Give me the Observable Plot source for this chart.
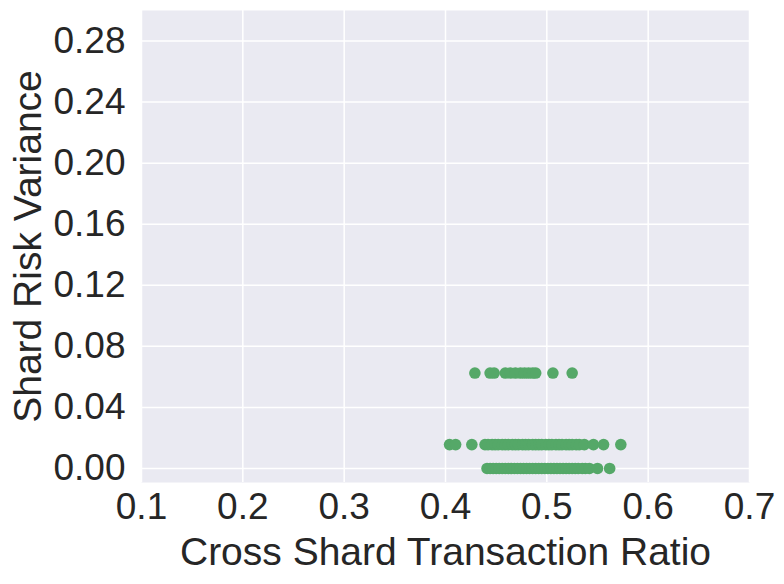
<!DOCTYPE html>
<html>
<head>
<meta charset="utf-8">
<script src="https://cdn.jsdelivr.net/npm/d3@7"></script>
<script src="https://cdn.jsdelivr.net/npm/@observablehq/plot@0.6"></script>
<style>
  html, body { margin: 0; padding: 0; background: #ffffff; }
  #chart svg { display: block; }
</style>
</head>
<body>
<div id="chart"></div>
<script>
// Values
const rowTopRisk = 0.0625;
const rowTopRatios = [0.429, 0.444, 0.448, 0.459, 0.464, 0.469, 0.474, 0.478, 0.482, 0.486, 0.489, 0.506, 0.525];

const rowMidRisk = 0.015625;
const rowMidRatios = [0.404, 0.410, 0.426, 0.439, 0.442, 0.446, 0.449, 0.452, 0.456, 0.459, 0.462, 0.466, 0.469,
  0.472, 0.476, 0.479, 0.482, 0.486, 0.489, 0.492, 0.495, 0.499, 0.502, 0.505, 0.509, 0.512, 0.515, 0.519,
  0.522, 0.525, 0.529, 0.532, 0.537, 0.546, 0.556, 0.573];

const rowLowRisk = 0.0;
const rowLowRatios = [0.441, 0.444, 0.447, 0.450, 0.453, 0.456, 0.459, 0.462, 0.465, 0.468, 0.471, 0.474, 0.477,
  0.480, 0.483, 0.486, 0.489, 0.492, 0.495, 0.498, 0.501, 0.504, 0.507, 0.510, 0.513, 0.516, 0.519, 0.522,
  0.525, 0.528, 0.531, 0.535, 0.538, 0.542, 0.550, 0.562];

const xTicks = [0.1, 0.2, 0.3, 0.4, 0.5, 0.6, 0.7];
const yTicks = [0.00, 0.04, 0.08, 0.12, 0.16, 0.20, 0.24, 0.28];
const xLabel = "Cross Shard Transaction Ratio";
const yLabel = "Shard Risk Variance";

const points = [
  ...rowTopRatios.map(x => ({x, y: rowTopRisk})),
  ...rowMidRatios.map(x => ({x, y: rowMidRisk})),
  ...rowLowRatios.map(x => ({x, y: rowLowRisk}))
];

const textColor = "#262626";
const font = "Liberation Sans, Arial, sans-serif";

const chart = Plot.plot({
  width: 784,
  height: 584,
  marginLeft: 141,
  marginRight: 35,
  marginTop: 10,
  marginBottom: 102,
  style: { fontFamily: font, fontSize: "37px", color: textColor, background: "#ffffff" },
  x: { domain: [0.1, 0.7] },
  y: { domain: [-0.0092, 0.300] },
  marks: [
    Plot.frame({ fill: "#EAEAF2", stroke: null }),
    Plot.gridX(xTicks, { stroke: "#ffffff", strokeOpacity: 1, strokeWidth: 1.5 }),
    Plot.gridY(yTicks, { stroke: "#ffffff", strokeOpacity: 1, strokeWidth: 1.5 }),
    Plot.axisX(xTicks, {
      tickSize: 0, tickPadding: 10, tickFormat: d3.format(".1f"),
      fontSize: 37, fill: textColor, label: null
    }),
    Plot.axisY(yTicks, {
      tickSize: 0, tickPadding: 16, tickFormat: d3.format(".2f"),
      fontSize: 37, fill: textColor, label: null
    }),
    Plot.text([xLabel], {
      text: d => d, frameAnchor: "bottom", dy: 70, lineAnchor: "middle",
      textAnchor: "middle", fontSize: 39, fill: textColor
    }),
    Plot.text([yLabel], {
      text: d => d, frameAnchor: "left", dx: -113, rotate: -90, lineAnchor: "middle",
      textAnchor: "middle", fontSize: 39, fill: textColor
    }),
    Plot.dot(points, { x: "x", y: "y", r: 5.8, fill: "#55A868", stroke: null })
  ]
});

document.getElementById("chart").appendChild(chart);
</script>
</body>
</html>
